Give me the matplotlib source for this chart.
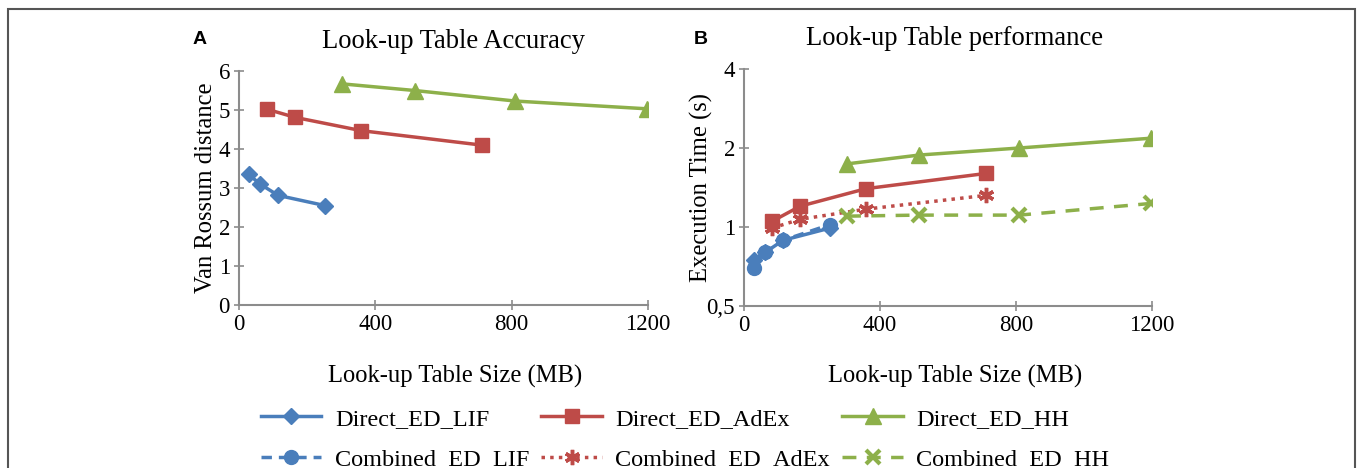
import matplotlib
matplotlib.use("Agg")
import matplotlib.pyplot as plt
from matplotlib.lines import Line2D
from matplotlib.patches import Rectangle
from matplotlib.ticker import FixedLocator, FixedFormatter, NullLocator

# ---- data ----
lif_size = [28, 62, 115, 252]
adex_size = [82, 165, 359, 712]
hh_size = [303, 515, 810, 1198]

acc_lif = [3.35, 3.10, 2.81, 2.55]
acc_adex = [5.02, 4.81, 4.47, 4.10]
acc_hh = [5.67, 5.50, 5.23, 5.03]

t_direct_lif = [0.75, 0.80, 0.89, 0.99]
t_comb_lif = [0.70, 0.80, 0.89, 1.02]
t_direct_adex = [1.05, 1.20, 1.40, 1.60]
t_comb_adex = [0.99, 1.07, 1.17, 1.32]
t_direct_hh = [1.74, 1.88, 2.00, 2.18]
t_comb_hh = [1.10, 1.11, 1.11, 1.23]

xticks = [0, 400, 800, 1200]
acc_yticks = [0, 1, 2, 3, 4, 5, 6]
time_yticks = [0.5, 1, 2, 4]
time_yticklabels = ["0,5", "1", "2", "4"]

labels_direct = ["Direct_ED_LIF", "Direct_ED_AdEx", "Direct_ED_HH"]
labels_comb = ["Combined_ED_LIF", "Combined_ED_AdEx", "Combined_ED_HH"]

BLUE = "#4a7ebb"
RED = "#be4b48"
GREEN = "#8db04a"
AXC = "#8c8c8c"
SERIF = "Liberation Serif"
TICK_FS = 16.5
LAB_FS = 17.7
TITLE_FS = 19.2

W, H = 1357, 468
fig = plt.figure(figsize=(W / 100, H / 100), dpi=100)


def px(x0, y0, x1, y1):
    return [x0 / W, 1 - y1 / H, (x1 - x0) / W, (y1 - y0) / H]


def style(ax):
    for s in ("top", "right"):
        ax.spines[s].set_visible(False)
    for s in ("left", "bottom"):
        ax.spines[s].set_color(AXC)
        ax.spines[s].set_linewidth(1.5)
    ax.tick_params(axis="both", colors=AXC, labelcolor="black", length=7, width=1.2,
                   direction="inout", pad=3)
    ax.set_xlim(0, 1200)
    ax.xaxis.set_major_locator(FixedLocator(xticks))
    ax.set_xticklabels([str(v) for v in xticks], family=SERIF, fontsize=TICK_FS)


# Panel A
axA = fig.add_axes(px(239, 71, 648, 305))
axA.plot(lif_size, acc_lif, color=BLUE, lw=2.5, marker="D", ms=8)
axA.plot(adex_size, acc_adex, color=RED, lw=2.5, marker="s", ms=10)
axA.plot(hh_size, acc_hh, color=GREEN, lw=2.5, marker="^", ms=11)
axA.set_ylim(0, 6)
axA.set_yticks(acc_yticks)
axA.set_yticklabels([str(v) for v in acc_yticks], family=SERIF, fontsize=TICK_FS)
style(axA)
axA.set_ylabel("Van Rossum distance", family=SERIF, fontsize=LAB_FS)
axA.yaxis.set_label_coords(-0.055, 0.5)

# Panel B
axB = fig.add_axes(px(744, 69, 1152, 306))
axB.set_yscale("log", base=2)
star = (6, 2, 0)
axB.plot(lif_size, t_direct_lif, color=BLUE, lw=2.5, marker="D", ms=8)
axB.plot(lif_size, t_comb_lif, color=BLUE, lw=2.5, ls=(0, (3, 2)), marker="o", ms=10)
axB.plot(adex_size, t_direct_adex, color=RED, lw=2.5, marker="s", ms=10)
axB.plot(adex_size, t_comb_adex, color=RED, lw=2.5, ls=(0, (1, 1.5)), marker=star, ms=11,
         mew=2.5)
axB.plot(hh_size, t_direct_hh, color=GREEN, lw=2.5, marker="^", ms=11)
axB.plot(hh_size, t_comb_hh, color=GREEN, lw=2.5, ls=(0, (4, 3)), marker="x", ms=10, mew=3)
axB.set_ylim(0.5, 4)
axB.yaxis.set_major_locator(FixedLocator(time_yticks))
axB.yaxis.set_major_formatter(FixedFormatter(time_yticklabels))
axB.yaxis.set_minor_locator(NullLocator())
style(axB)
for lab in axB.get_yticklabels():
    lab.set_family(SERIF)
    lab.set_fontsize(TICK_FS)
axB.set_ylabel("Execution Time (s)", family=SERIF, fontsize=LAB_FS)
axB.yaxis.set_label_coords(-0.075, 0.5)

# titles
fig.text(454 / W, 1 - 48 / H, "Look-up Table Accuracy", family=SERIF, fontsize=TITLE_FS,
         ha="center", va="baseline")
fig.text(954 / W, 1 - 45 / H, "Look-up Table performance", family=SERIF, fontsize=TITLE_FS,
         ha="center", va="baseline")

# x labels
fig.text(455 / W, 1 - 383 / H, "Look-up Table Size (MB)", family=SERIF, fontsize=LAB_FS,
         ha="center", va="baseline")
fig.text(955 / W, 1 - 383 / H, "Look-up Table Size (MB)", family=SERIF, fontsize=LAB_FS,
         ha="center", va="baseline")

# panel letters
fig.text(200 / W, 1 - 39 / H, "A", family="Liberation Sans", fontweight="bold",
         fontsize=14, ha="center", va="center")
fig.text(701 / W, 1 - 39 / H, "B", family="Liberation Sans", fontweight="bold",
         fontsize=14, ha="center", va="center")

# legend (3 columns, direct row then combined row)
h_direct = [
    Line2D([], [], color=BLUE, lw=2.5, marker="D", ms=8),
    Line2D([], [], color=RED, lw=2.5, marker="s", ms=10),
    Line2D([], [], color=GREEN, lw=2.5, marker="^", ms=11),
]
h_comb = [
    Line2D([], [], color=BLUE, lw=2.5, ls=(0, (3, 2)), marker="o", ms=10),
    Line2D([], [], color=RED, lw=2.5, ls=(0, (1, 1.5)), marker=star, ms=11, mew=2.5),
    Line2D([], [], color=GREEN, lw=2.5, ls=(0, (4, 3)), marker="x", ms=10, mew=3),
]
handles = []
labels = []
for i in range(3):
    handles += [h_direct[i], h_comb[i]]
    labels += [labels_direct[i], labels_comb[i]]
fig.legend(handles, labels, ncol=3, loc="center", bbox_to_anchor=(685 / W, 1 - 439 / H),
           frameon=False, prop={"family": SERIF, "size": 17.5}, handlelength=2.5,
           columnspacing=0.5, handletextpad=0.55, labelspacing=0.75)

# outer frame
fig.patches.append(Rectangle((8 / W, -0.05), (1355 - 8) / W, (1 - 9 / H) + 0.05,
                             transform=fig.transFigure, fill=False, edgecolor="#555555",
                             lw=1.5))

fig.savefig("out.png", dpi=100)
